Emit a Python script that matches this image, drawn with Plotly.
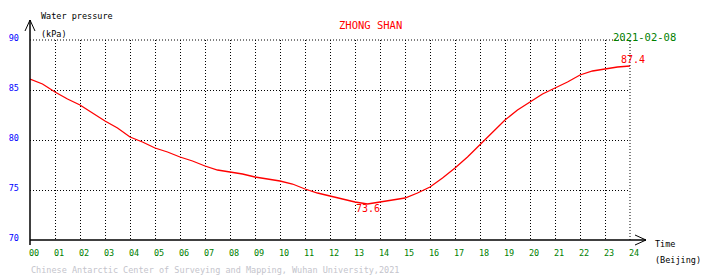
import plotly.graph_objects as go

# ---- data ----
hours = [i * 0.5 for i in range(49)]
pressure = [
    86.1, 85.6, 84.8, 84.1, 83.5, 82.7, 81.9, 81.2, 80.3, 79.8,
    79.2, 78.8, 78.3, 77.9, 77.4, 77.0, 76.8, 76.6, 76.3, 76.1,
    75.9, 75.6, 75.1, 74.7, 74.4, 74.1, 73.8, 73.6, 73.8, 74.0,
    74.2, 74.7, 75.3, 76.2, 77.2, 78.3, 79.5, 80.7, 82.0, 83.0,
    83.8, 84.6, 85.2, 85.8, 86.5, 86.9, 87.1, 87.3, 87.4,
]
x_ticks = list(range(25))
x_labels = ["%02d" % h for h in x_ticks]
y_ticks = [70, 75, 80, 85, 90]
y_labels = [str(v) for v in y_ticks]

station = "ZHONG SHAN"
date_str = "2021-02-08"
footer = "Chinese Antarctic Center of Surveying and Mapping, Wuhan University,2021"

MONO = "DejaVu Sans Mono"
W, H = 710, 278
L, R, T, B = 30, 80, 40, 38
PW, PH = W - L - R, H - T - B


def px(xp):
    return (xp - L) / PW


def py(yp):
    return (H - B - yp) / PH


fig = go.Figure()
fig.add_trace(go.Scatter(x=hours, y=pressure, mode="lines",
                         line=dict(color="#ff0000", width=1.3),
                         hoverinfo="skip", showlegend=False))

imax = pressure.index(max(pressure))
imin = pressure.index(min(pressure))

annotations = [
    dict(text=station, x=px(370), y=py(25), xanchor="center",
         font=dict(color="#ff0000", size=10.5)),
    dict(text=date_str, x=px(611), y=py(37), xanchor="left",
         font=dict(color="#008000", size=10.5)),
    dict(text="Water pressure", x=px(39), y=py(16), xanchor="left",
         font=dict(color="#000000", size=8.5)),
    dict(text="(kPa)", x=px(39), y=py(34), xanchor="left",
         font=dict(color="#000000", size=8.5)),
    dict(text="Time", x=px(653), y=py(244), xanchor="left",
         font=dict(color="#000000", size=8.5)),
    dict(text="(Beijing)", x=px(653), y=py(260), xanchor="left",
         font=dict(color="#000000", size=8.5)),
    dict(text=footer, x=px(29), y=py(270), xanchor="left",
         font=dict(color="#c4c4cc", size=8.5)),
]
for a in annotations:
    a.update(xref="paper", yref="paper", yanchor="middle", showarrow=False,
             font=dict(family=MONO, **a["font"]))

annotations += [
    dict(text="%.1f" % pressure[imax], x=hours[imax], y=pressure[imax],
         xref="x", yref="y", xanchor="center", yanchor="bottom",
         xshift=3, yshift=-1, showarrow=False,
         font=dict(family=MONO, color="#ff0000", size=10)),
    dict(text="%.1f" % pressure[imin], x=hours[imin], y=pressure[imin],
         xref="x", yref="y", xanchor="center", yanchor="top",
         yshift=3, showarrow=False,
         font=dict(family=MONO, color="#ff0000", size=10)),
]

fig.update_layout(
    width=W, height=H,
    margin=dict(l=L, r=R, t=T, b=B, pad=0, autoexpand=False),
    paper_bgcolor="#ffffff", plot_bgcolor="#ffffff",
    font=dict(family=MONO),
    annotations=annotations,
    showlegend=False,
    xaxis=dict(range=[0, 24], tickvals=x_ticks, ticktext=x_labels,
               showgrid=True, gridcolor="#000000", gridwidth=1, griddash="1px,2px",
               zeroline=False, showline=False, ticks="", automargin=False,
               tickfont=dict(family=MONO, color="#008000", size=8.5),
               ticklabelshift=4, ticklabelstandoff=6, fixedrange=True),
    yaxis=dict(range=[70, 90], tickvals=y_ticks, ticktext=y_labels,
               showgrid=True, gridcolor="#000000", gridwidth=1, griddash="1px,2px",
               zeroline=False, showline=False, ticks="", automargin=False,
               tickfont=dict(family=MONO, color="#0000ff", size=8.5),
               ticklabelshift=-2, ticklabelstandoff=10, fixedrange=True),
)

dot = dict(color="#000000", width=1, dash="1px,2px")
# top grid line and right grid line (range edges)
fig.add_shape(type="line", xref="paper", yref="paper", x0=0, x1=1, y0=1, y1=1, line=dot)
fig.add_shape(type="line", xref="paper", yref="paper", x0=1, x1=1, y0=0, y1=1, line=dot)

solid = dict(color="#000000", width=1.5)
thin = dict(color="#000000", width=1)
# y axis with open arrow
fig.add_shape(type="line", xref="paper", yref="paper",
              x0=0, x1=0, y0=py(245), y1=py(20), line=solid)
fig.add_shape(type="line", xref="paper", yref="paper",
              x0=px(25), x1=0, y0=py(31), y1=py(20), line=thin)
fig.add_shape(type="line", xref="paper", yref="paper",
              x0=px(35), x1=0, y0=py(31), y1=py(20), line=thin)
# x axis with open arrow
fig.add_shape(type="line", xref="paper", yref="paper",
              x0=0, x1=px(646), y0=0, y1=0, line=solid)
fig.add_shape(type="line", xref="paper", yref="paper",
              x0=px(635), x1=px(646), y0=py(235), y1=0, line=thin)
fig.add_shape(type="line", xref="paper", yref="paper",
              x0=px(635), x1=px(646), y0=py(245), y1=0, line=thin)

fig.write_html("out.html", config=dict(displayModeBar=False))
